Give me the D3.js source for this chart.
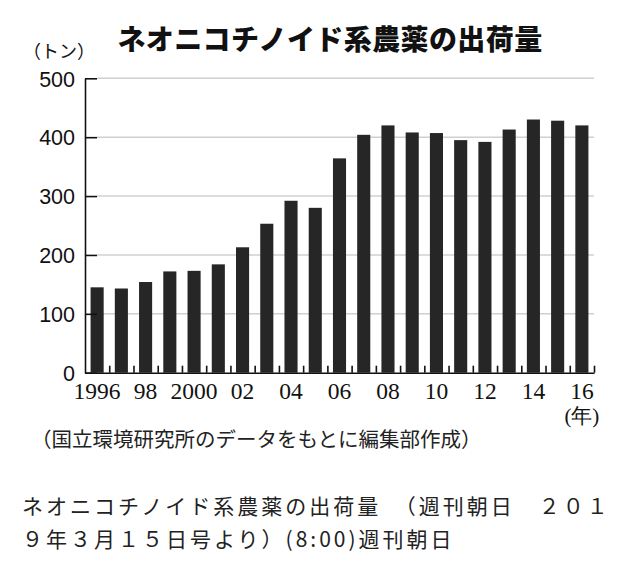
<!DOCTYPE html>
<html>
<head>
<meta charset="utf-8">
<script src="https://cdn.jsdelivr.net/npm/d3@7"></script>
<style>
  html, body { margin: 0; padding: 0; background: #fff; }
  svg { display: block; }
  .title { font-family: "Noto Sans CJK JP"; font-weight: 900; font-size: 28px; fill: #111; letter-spacing: 0.4px; }
  .unit { font-family: "Noto Sans CJK JP"; font-size: 18px; fill: #111; }
  .y-axis text { font-family: "Liberation Sans", Arial, sans-serif; font-size: 21.5px; fill: #111; }
  .x-labels text { font-family: "Liberation Serif", serif; font-size: 23.5px; fill: #111; }
  .year-unit { font-family: "Liberation Serif", serif; font-size: 21px; fill: #111; }
  .source { font-family: "Noto Sans CJK JP"; font-size: 20.5px; fill: #222; }
  .caption { font-family: "Noto Sans CJK JP"; font-size: 21px; fill: #222; letter-spacing: 3px; }
</style>
</head>
<body>
<div id="main"></div>
<script>
const years = d3.range(1996, 2017);
// shipments, tonnes
const shipments = [145, 143, 154, 172, 173, 184, 213, 253, 292, 280, 364, 404, 420, 408, 407, 395, 392, 413, 430, 428, 420];
const yTicks = [0, 100, 200, 300, 400, 500];
const xLabelYears = [1996, 1998, 2000, 2002, 2004, 2006, 2008, 2010, 2012, 2014, 2016];

const W = 627, H = 563;
const plot = { left: 85, right: 594, top: 78.3, bottom: 372.7 };

const svg = d3.select("#main").append("svg")
  .attr("width", W)
  .attr("height", H)
  .attr("xmlns", "http://www.w3.org/2000/svg");

svg.append("rect").attr("width", W).attr("height", H).attr("fill", "#fff");

const x = d3.scaleBand().domain(years).range([plot.left, plot.right]).paddingInner(0.46).paddingOuter(0.23);
const y = d3.scaleLinear().domain([0, 500]).range([plot.bottom, plot.top]);
// index scale for the tick marks between bars
const xi = d3.scaleLinear().domain([0, years.length]).range([plot.left, plot.right]);

// gridlines
svg.append("g")
  .selectAll("line")
  .data(yTicks.filter((d) => d > 0))
  .join("line")
  .attr("x1", plot.left + 12)
  .attr("x2", plot.right)
  .attr("y1", (d) => y(d))
  .attr("y2", (d) => y(d))
  .attr("stroke", "#d0d0d0")
  .attr("stroke-width", 1.5);

// bars
svg.append("g")
  .selectAll("rect")
  .data(years)
  .join("rect")
  .attr("x", (d) => x(d))
  .attr("width", x.bandwidth())
  .attr("y", (d, i) => y(shipments[i]))
  .attr("height", (d, i) => y(0) - y(shipments[i]))
  .attr("fill", "#262626");

// y axis, ticks pointing inward
const yAxis = svg.append("g")
  .attr("class", "y-axis")
  .attr("transform", `translate(${plot.left},0)`)
  .call(d3.axisLeft(y).tickValues(yTicks).tickSizeInner(-12).tickSizeOuter(0).tickPadding(10));
yAxis.selectAll("path, line").attr("stroke", "#111").attr("stroke-width", 1.6);
yAxis.selectAll("text").attr("dy", "0.36em");

// x axis line with small upward ticks between the bars
const xAxis = svg.append("g")
  .attr("transform", `translate(0,${plot.bottom})`)
  .call(d3.axisBottom(xi).tickValues(d3.range(1, years.length + 1)).tickSizeInner(-7).tickSizeOuter(0).tickFormat(""));
xAxis.selectAll("path, line").attr("stroke", "#111").attr("stroke-width", 1.6);

// year labels
const xLabels = svg.append("g")
  .attr("class", "x-labels")
  .attr("transform", `translate(0,${plot.bottom})`)
  .call(d3.axisBottom(x).tickValues(xLabelYears).tickSize(0)
    .tickFormat((d) => (d === 1996 || d === 2000 ? String(d) : String(d).slice(2))));
xLabels.select(".domain").remove();
xLabels.selectAll("text").attr("y", 26).attr("dy", 0);

svg.append("text")
  .attr("class", "year-unit")
  .attr("x", x(2016) + x.bandwidth() / 2)
  .attr("y", 423)
  .attr("text-anchor", "middle")
  .text("(年)");

svg.append("text")
  .attr("class", "title")
  .attr("x", 330)
  .attr("y", 50)
  .attr("text-anchor", "middle")
  .text("ネオニコチノイド系農薬の出荷量");

svg.append("text")
  .attr("class", "unit")
  .attr("x", 23)
  .attr("y", 58)
  .text("（トン）");

svg.append("text")
  .attr("class", "source")
  .attr("x", 31)
  .attr("y", 447)
  .text("（国立環境研究所のデータをもとに編集部作成）");

const captionLines = ["ネオニコチノイド系農薬の出荷量　（週刊朝日　２０１", "９年３月１５日号より）(8:00)週刊朝日"];
svg.append("g")
  .selectAll("text")
  .data(captionLines)
  .join("text")
  .attr("class", "caption")
  .attr("x", 22)
  .attr("y", (d, i) => 514 + i * 33)
  .text((d) => d);
</script>
</body>
</html>
